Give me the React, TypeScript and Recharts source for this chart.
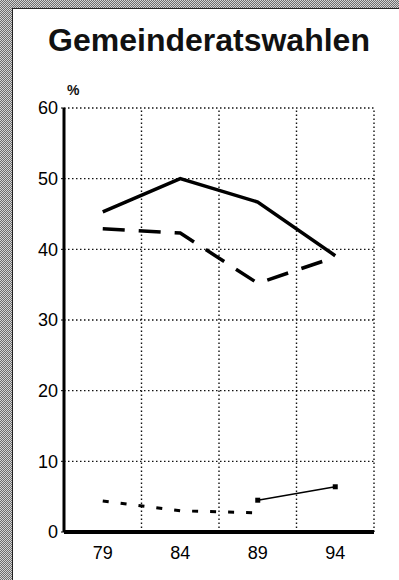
import {
  LineChart,
  Line,
  XAxis,
  YAxis,
  CartesianGrid,
  ReferenceLine,
} from "recharts";

// election years (x categories) and party shares in %
const years = ["79", "84", "89", "94"];
const solidParty = [45.3, 50.0, 46.7, 39.1];
const dashedParty = [42.9, 42.3, 35.2, 38.9];
const smallDashedParty: (number | null)[] = [4.4, 3.0, 2.7, null];
const thinParty: (number | null)[] = [null, null, 4.5, 6.4];
const yTicks = [0, 10, 20, 30, 40, 50, 60];

const FONT = '"Liberation Sans", Arial, sans-serif';

const data = years.map((y, i) => ({
  x: i + 0.5,
  year: y,
  solid: solidParty[i],
  dashed: dashedParty[i],
  small: smallDashedParty[i],
  thin: thinParty[i],
}));

const SquareDot = (props: any) => {
  const { cx, cy, value } = props;
  if (value == null || cx == null || cy == null) return null;
  return <rect x={cx - 2.5} y={cy - 2.5} width={5} height={5} fill="#000" />;
};

// fine checker to mimic the scanned grey screen
const stipple = "repeating-conic-gradient(#6e6e6e 0 25%, #d4d4d4 0 50%) 0 0 / 2px 2px";

export default function App() {
  return (
    <div
      style={{
        position: "absolute",
        left: 0,
        top: 0,
        width: 399,
        height: 580,
        background: "#fff",
        overflow: "hidden",
        fontFamily: FONT,
      }}
    >
      {/* scanned stipple border, left and top */}
      <div style={{ position: "absolute", left: 0, top: 0, width: 12, height: 580, background: stipple }} />
      <div style={{ position: "absolute", left: 0, top: 0, width: 399, height: 8, background: stipple }} />
      <div style={{ position: "absolute", left: 12, top: 8, width: 1, height: 572, background: "#222" }} />
      <div style={{ position: "absolute", left: 12, top: 8, width: 387, height: 1, background: "#222" }} />

      <div
        style={{
          position: "absolute",
          left: 46,
          width: 326,
          top: 22,
          textAlign: "center",
          fontSize: 32,
          fontWeight: 700,
          color: "#111",
          whiteSpace: "nowrap",
        }}
      >
        Gemeinderatswahlen
      </div>
      <div
        style={{
          position: "absolute",
          left: 67,
          top: 82,
          fontSize: 14,
          fontWeight: 700,
          color: "#111",
        }}
      >
        %
      </div>

      <div style={{ position: "absolute", left: 0, top: 0 }}>
        <LineChart
          width={399}
          height={580}
          data={data}
          margin={{ top: 108, right: 25, left: 0, bottom: 18 }}
        >
          <CartesianGrid
            vertical={false}
            stroke="#111"
            strokeWidth={1.4}
            strokeDasharray="1.5 2.5"
          />
          {[1, 2, 3, 4].map((v) => (
            <ReferenceLine
              key={v}
              x={v}
              stroke="#111"
              strokeWidth={1.4}
              strokeDasharray="1.5 2.5"
            />
          ))}
          <XAxis
            type="number"
            dataKey="x"
            domain={[0, 4]}
            ticks={data.map((d) => d.x)}
            tickFormatter={(v: number) => years[Math.floor(v)]}
            tickLine={false}
            tickMargin={8}
            axisLine={{ stroke: "#000", strokeWidth: 4 }}
            tick={{ fill: "#000", fontSize: 18, fontFamily: FONT }}
            height={30}
          />
          <YAxis
            domain={[0, 60]}
            ticks={yTicks}
            width={64}
            tickSize={3}
            tickMargin={3}
            tickLine={{ stroke: "#000" }}
            axisLine={{ stroke: "#000", strokeWidth: 3 }}
            tick={{ fill: "#000", fontSize: 18, fontFamily: FONT }}
          />
          <Line
            dataKey="solid"
            stroke="#000"
            strokeWidth={3.5}
            dot={false}
            isAnimationActive={false}
          />
          <Line
            dataKey="dashed"
            stroke="#000"
            strokeWidth={3.5}
            strokeDasharray="22 14"
            dot={false}
            isAnimationActive={false}
          />
          <Line
            dataKey="small"
            stroke="#000"
            strokeWidth={3}
            strokeDasharray="6 12"
            dot={false}
            connectNulls={false}
            isAnimationActive={false}
          />
          <Line
            dataKey="thin"
            stroke="#000"
            strokeWidth={1.5}
            dot={<SquareDot />}
            connectNulls={false}
            isAnimationActive={false}
          />
        </LineChart>
      </div>
    </div>
  );
}
